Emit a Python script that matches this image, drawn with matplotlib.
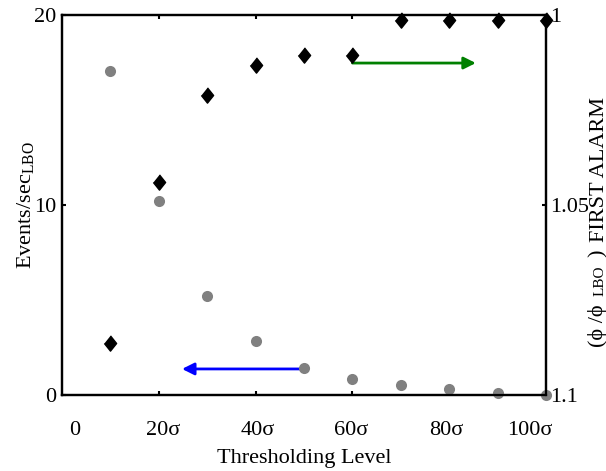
import matplotlib
matplotlib.use('Agg')
import matplotlib.pyplot as plt
import numpy as np

plt.rcParams['font.family'] = ['Liberation Serif', 'DejaVu Serif']
plt.rcParams['mathtext.fontset'] = 'custom'
plt.rcParams['mathtext.rm'] = 'Liberation Serif'
plt.rcParams['font.size'] = 16

# threshold levels (in units of sigma)
levels = [10, 20, 30, 40, 50, 60, 70, 80, 90, 100]
# events per second at LBO (left axis)
events_rate = [17.05, 10.2, 5.2, 2.85, 1.44, 0.84, 0.53, 0.32, 0.1, 0.0]
# phi/phi_LBO at first alarm (right axis, inverted)
phi_ratio = [1.0863, 1.0440, 1.0211, 1.0132, 1.0105, 1.0105, 1.0013, 1.0013, 1.0013, 1.0013]

xtick_pos = [2.7, 20.9, 40.5, 59.8, 79.4, 96.7]
xtick_labels = ['0', '20σ', '40σ', '60σ', '80σ', '100σ']

W, H = 606, 471
fig = plt.figure(figsize=(W / 100, H / 100), dpi=100)
ax = fig.add_axes([0.1023, 0.1614, 0.7987, 0.8068])
ax2 = ax.twinx()

ax.plot(levels, events_rate, 'o', color='#808080', ms=8, mec='none', clip_on=False, zorder=5)
diamond = [(0, 1), (0.8, 0), (0, -1), (-0.8, 0)]
ax2.plot(levels, phi_ratio, linestyle='none', marker=diamond, color='black', ms=11,
         clip_on=False, zorder=5)

ax.set_xlim(0, 100)
ax.set_ylim(0, 20)
ax2.set_ylim(1.1, 1.0)

# labels sit on major ticks with no marks, the marks themselves are minor ticks
ax.set_xticks(xtick_pos)
ax.set_xticklabels(xtick_labels)
ax.set_xticks([20, 40, 60, 80], minor=True)
ax.tick_params(axis='x', which='major', length=0, pad=19)
ax.tick_params(axis='x', which='minor', direction='in', length=3, width=1.5, top=True, bottom=True)

ax.set_yticks([0, 10, 20])
ax.set_yticklabels(['0', '10', '20'])
ax.tick_params(axis='y', direction='in', length=3, width=1.5, pad=4)
ax2.set_yticks([1.0, 1.05, 1.1])
ax2.set_yticklabels(['1', '1.05', '1.1'])
ax2.tick_params(axis='y', direction='in', length=3, width=1.5, pad=3)

for a in (ax, ax2):
    for s in a.spines.values():
        s.set_linewidth(1.6)

ax.set_xlabel('Thresholding Level', labelpad=6)
ax.set_ylabel('Events/sec$_\\mathrm{LBO}$', labelpad=-2)

# right label is built from pieces (the outer subscript is larger than usual)
def vtext(x, y, s, size):
    fig.text(x / W, 1 - y / H, s, rotation=90, rotation_mode='anchor',
             ha='left', va='baseline', fontsize=size)

vtext(603, 347, '(ϕ /ϕ', 16)
vtext(604, 296, 'LBO', 11)
vtext(603, 257, ')', 16)
vtext(604, 242, 'FIRST ALARM', 16)

# arrows pointing to the axis each series belongs to
ax.annotate('', xy=(24.8, 1.37), xytext=(50, 1.37),
            arrowprops=dict(arrowstyle='-|>', color='#0000ff', lw=2,
                            mutation_scale=18, shrinkA=0, shrinkB=0))
ax.annotate('', xy=(85.5, 17.47), xytext=(60, 17.47),
            arrowprops=dict(arrowstyle='-|>', color='#008000', lw=2,
                            mutation_scale=18, shrinkA=0, shrinkB=0))

fig.savefig('out.png', dpi=100)
